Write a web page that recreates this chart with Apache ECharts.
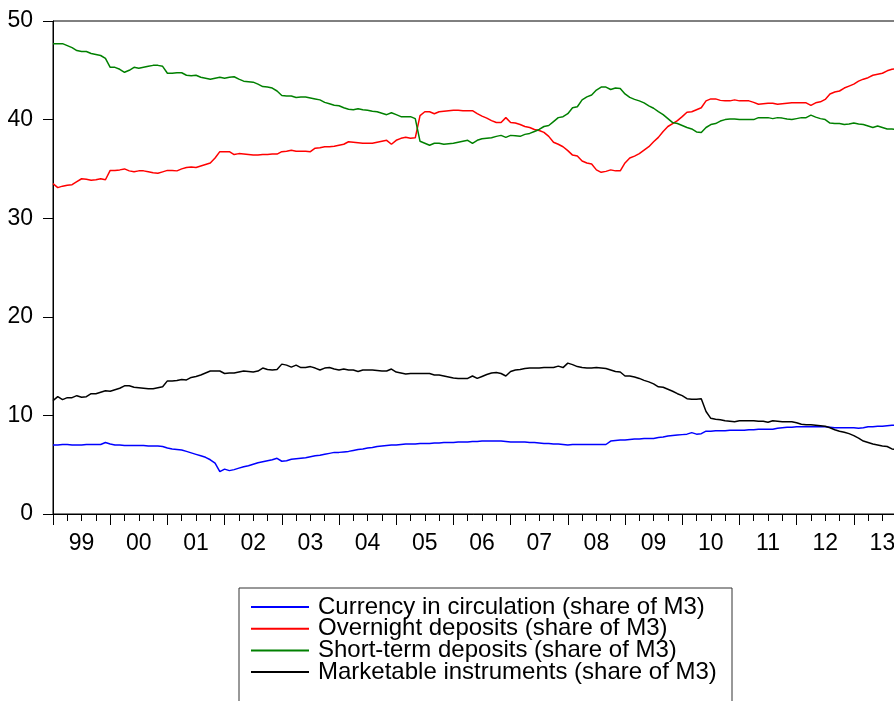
<!DOCTYPE html>
<html>
<head>
<meta charset="utf-8">
<script src="https://cdn.jsdelivr.net/npm/echarts@6/dist/echarts.min.js"></script>
<style>
html,body{margin:0;padding:0;background:#fff;}
#chart{width:894px;height:701px;}
</style>
</head>
<body>
<div id="chart"></div>
<script>
// Monthly observations, Jan 1999 onward (share of M3, %)
const startYear = 1999;
const yearLabels = ['99','00','01','02','03','04','05','06','07','08','09','10','11','12','13'];
const seriesNames = [
  'Currency in circulation (share of M3)',
  'Overnight deposits (share of M3)',
  'Short-term deposits (share of M3)',
  'Marketable instruments (share of M3)'
];
const currency = [
  7.0,7.0,7.05,7.05,7.0,7.0,7.0,7.05,7.05,7.05,7.05,7.25,
  7.1,7.0,7.0,6.95,6.95,6.95,6.95,6.95,6.9,6.9,6.9,6.85,
  6.7,6.6,6.55,6.5,6.35,6.2,6.05,5.9,5.75,5.5,5.15,4.3,
  4.55,4.4,4.5,4.65,4.8,4.9,5.05,5.2,5.3,5.4,5.5,5.65,
  5.35,5.4,5.55,5.6,5.65,5.7,5.8,5.9,5.95,6.05,6.15,6.25,
  6.25,6.3,6.35,6.45,6.55,6.6,6.7,6.75,6.85,6.9,6.95,7.0,
  7.0,7.05,7.1,7.1,7.1,7.15,7.15,7.15,7.2,7.2,7.25,7.25,
  7.25,7.3,7.3,7.3,7.35,7.35,7.4,7.4,7.4,7.4,7.4,7.35,
  7.3,7.3,7.3,7.3,7.25,7.25,7.2,7.15,7.15,7.1,7.1,7.05,
  7.0,7.05,7.05,7.05,7.05,7.05,7.05,7.05,7.05,7.4,7.45,7.5,
  7.5,7.55,7.6,7.6,7.65,7.65,7.65,7.75,7.8,7.9,7.95,8.0,
  8.05,8.1,8.25,8.1,8.15,8.4,8.4,8.45,8.45,8.45,8.5,8.5,
  8.5,8.5,8.55,8.55,8.6,8.6,8.6,8.6,8.7,8.75,8.8,8.8,
  8.85,8.85,8.85,8.85,8.85,8.85,8.85,8.8,8.75,8.75,8.75,8.75,
  8.75,8.7,8.75,8.85,8.85,8.9,8.9,8.95,9.0,9.0
];
const overnight = [
  33.5,33.1,33.25,33.35,33.4,33.7,34.0,33.95,33.85,33.9,34.0,33.9,
  34.85,34.85,34.9,35.0,34.8,34.7,34.8,34.8,34.7,34.6,34.55,34.7,
  34.85,34.85,34.8,35.0,35.15,35.2,35.15,35.3,35.45,35.6,36.1,36.75,
  36.75,36.75,36.45,36.55,36.5,36.45,36.4,36.4,36.45,36.45,36.5,36.5,
  36.75,36.8,36.9,36.8,36.8,36.8,36.75,37.1,37.15,37.25,37.25,37.3,
  37.4,37.5,37.75,37.7,37.65,37.6,37.6,37.6,37.7,37.8,37.9,37.5,
  37.9,38.1,38.2,38.1,38.15,40.4,40.8,40.8,40.6,40.8,40.85,40.9,
  40.95,40.95,40.9,40.9,40.9,40.6,40.35,40.15,39.9,39.7,39.7,40.2,
  39.7,39.65,39.5,39.3,39.2,39.0,38.9,38.7,38.3,37.7,37.5,37.25,
  36.85,36.4,36.3,35.8,35.6,35.5,34.9,34.65,34.75,34.9,34.8,34.8,
  35.6,36.1,36.3,36.55,36.9,37.25,37.75,38.2,38.8,39.3,39.6,39.9,
  40.3,40.75,40.8,41.0,41.2,41.9,42.1,42.1,41.95,41.9,41.9,42.0,
  41.9,41.9,41.9,41.75,41.55,41.6,41.65,41.65,41.55,41.6,41.65,41.7,
  41.7,41.7,41.7,41.45,41.7,41.8,42.05,42.6,42.8,42.9,43.2,43.4,
  43.6,43.9,44.1,44.25,44.5,44.6,44.7,44.95,45.1,45.15
];
const shortTerm = [
  47.7,47.7,47.7,47.5,47.3,47.0,46.9,46.9,46.7,46.6,46.5,46.2,
  45.3,45.3,45.1,44.8,45.0,45.3,45.2,45.3,45.4,45.5,45.5,45.4,
  44.7,44.7,44.75,44.75,44.5,44.45,44.5,44.3,44.2,44.1,44.2,44.3,
  44.2,44.3,44.35,44.1,43.9,43.85,43.8,43.6,43.35,43.3,43.2,42.9,
  42.45,42.4,42.4,42.25,42.3,42.3,42.2,42.1,42.0,41.75,41.6,41.45,
  41.4,41.2,41.05,41.0,41.1,41.0,40.95,40.85,40.8,40.65,40.5,40.7,
  40.5,40.3,40.3,40.3,40.1,37.8,37.6,37.4,37.6,37.6,37.5,37.55,
  37.6,37.7,37.8,37.9,37.6,37.9,38.05,38.1,38.15,38.3,38.4,38.2,
  38.4,38.35,38.3,38.5,38.6,38.8,39.0,39.3,39.4,39.8,40.2,40.3,
  40.6,41.2,41.3,42.0,42.3,42.5,43.0,43.3,43.3,43.05,43.2,43.15,
  42.6,42.25,42.05,41.9,41.7,41.4,41.15,40.8,40.5,40.1,39.7,39.6,
  39.4,39.2,39.05,38.75,38.7,39.2,39.5,39.6,39.85,40.0,40.05,40.05,
  40.0,40.0,40.0,40.0,40.2,40.2,40.2,40.1,40.2,40.15,40.05,40.0,
  40.1,40.2,40.2,40.45,40.25,40.1,40.0,39.65,39.6,39.6,39.5,39.55,
  39.65,39.55,39.5,39.35,39.2,39.35,39.2,39.05,39.05,39.0
];
const marketable = [
  11.5,11.9,11.6,11.8,11.8,12.0,11.85,11.9,12.2,12.2,12.35,12.5,
  12.45,12.6,12.75,13.0,13.0,12.85,12.8,12.75,12.7,12.7,12.8,12.9,
  13.5,13.5,13.55,13.65,13.6,13.85,13.95,14.1,14.3,14.5,14.5,14.5,
  14.25,14.3,14.3,14.4,14.5,14.45,14.4,14.5,14.8,14.65,14.6,14.65,
  15.2,15.1,14.9,15.1,14.85,14.85,14.95,14.8,14.6,14.8,14.85,14.7,
  14.6,14.7,14.6,14.6,14.45,14.6,14.6,14.6,14.55,14.5,14.5,14.7,
  14.4,14.3,14.2,14.25,14.25,14.25,14.25,14.25,14.1,14.1,14.0,13.9,
  13.8,13.75,13.75,13.75,14.0,13.75,13.95,14.15,14.3,14.35,14.25,14.0,
  14.45,14.6,14.65,14.75,14.8,14.8,14.8,14.85,14.85,14.85,15.0,14.85,
  15.3,15.15,14.95,14.85,14.8,14.8,14.85,14.8,14.75,14.6,14.45,14.4,
  14.0,14.0,13.9,13.75,13.55,13.4,13.2,12.9,12.85,12.65,12.45,12.2,
  12.0,11.7,11.65,11.65,11.7,10.4,9.7,9.6,9.55,9.45,9.4,9.35,
  9.45,9.45,9.45,9.45,9.4,9.4,9.3,9.45,9.4,9.35,9.35,9.35,
  9.25,9.1,9.05,9.05,9.0,8.95,8.9,8.75,8.55,8.4,8.3,8.15,
  7.95,7.7,7.4,7.25,7.1,7.0,6.9,6.85,6.6,6.5
];
const yTicks = [0, 10, 20, 30, 40, 50];

const colors = ['#0000ff', '#ff0000', '#008000', '#000000'];
const FONT = '"Liberation Sans", Arial, Helvetica, sans-serif';
const toPairs = arr => arr.map((v, i) => [startYear + i / 12, v]);
const allSeries = [currency, overnight, shortTerm, marketable];

const chart = echarts.init(document.getElementById('chart'), null, {renderer: 'canvas'});
chart.setOption({
  animation: false,
  backgroundColor: '#ffffff',
  textStyle: {fontFamily: FONT},
  grid: {
    left: 53, right: -17, top: 21, bottom: 187,
    containLabel: false, outerBoundsMode: 'none',
    show: true, borderColor: '#000', borderWidth: 1, backgroundColor: 'transparent'
  },
  xAxis: [
    {
      type: 'value', min: startYear, max: startYear + yearLabels.length, interval: 1,
      axisLine: {show: true, onZero: false, lineStyle: {color: '#000', width: 1}},
      axisTick: {show: true, inside: false, length: 11, lineStyle: {color: '#000', width: 1}},
      minorTick: {show: true, splitNumber: 4, length: 7, lineStyle: {color: '#000', width: 1}},
      axisLabel: {show: false},
      splitLine: {show: false}, minorSplitLine: {show: false}
    },
    {
      type: 'category', data: yearLabels, position: 'bottom', boundaryGap: true,
      axisLine: {show: false}, axisTick: {show: false}, splitLine: {show: false},
      axisLabel: {interval: 0, fontSize: 23, color: '#000', fontFamily: FONT, margin: 18}
    }
  ],
  yAxis: {
    type: 'value', min: yTicks[0], max: yTicks[yTicks.length - 1], interval: 10,
    axisLine: {show: true, lineStyle: {color: '#000', width: 1}},
    axisTick: {show: true, inside: false, length: 10, lineStyle: {color: '#000', width: 1}},
    axisLabel: {fontSize: 23, color: '#000', fontFamily: FONT, margin: 20},
    splitLine: {show: false}
  },
  legend: {
    orient: 'vertical', left: 251, top: 595, padding: 0, itemGap: -2.3,
    icon: 'rect', itemWidth: 58, itemHeight: 2,
    textStyle: {fontSize: 24, color: '#000', fontFamily: FONT, padding: [0, 0, 0, 4]},
    data: seriesNames
  },
  graphic: [{
    type: 'rect', silent: true,
    shape: {x: 239, y: 588, width: 493, height: 160},
    style: {fill: 'none', stroke: '#333', lineWidth: 1}
  }],
  series: allSeries.map((arr, k) => ({
    name: seriesNames[k], type: 'line', xAxisIndex: 0, yAxisIndex: 0,
    data: toPairs(arr), symbol: 'none', showSymbol: false,
    lineStyle: {color: colors[k], width: 1.5}, itemStyle: {color: colors[k]},
    emphasis: {disabled: true}, clip: true
  }))
});
</script>
</body>
</html>
